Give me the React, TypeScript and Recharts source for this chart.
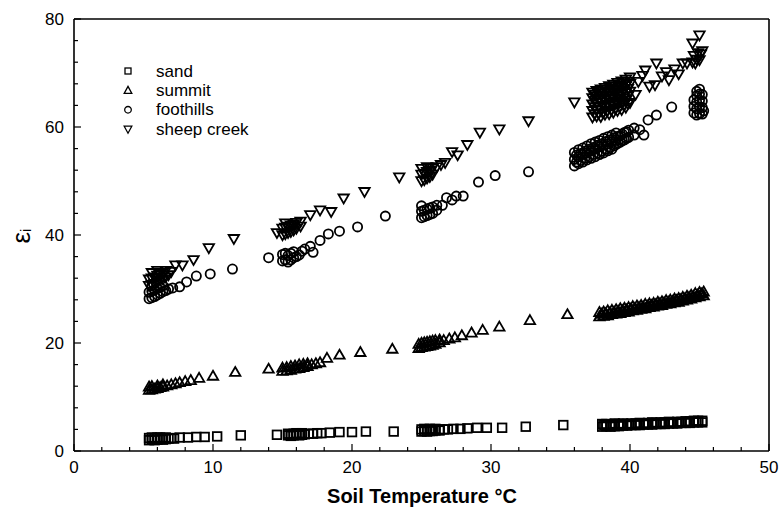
import React from "react";
import { ScatterChart, Scatter, XAxis, YAxis } from "recharts";

const xTicks = [0, 2, 4, 6, 8, 10, 12, 14, 16, 18, 20, 22, 24, 26, 28, 30, 32, 34, 36, 38, 40, 42, 44, 46, 48, 50];
const yTicks = [0, 4, 8, 12, 16, 20, 24, 28, 32, 36, 40, 44, 48, 52, 56, 60, 64, 68, 72, 76, 80];
const seriesNames = ["sand", "summit", "foothills", "sheep creek"];
const xTitle = "Soil Temperature °C";

const sand = [
  [5.4, 2.0], [5.4, 2.4], [5.6, 2.1], [5.6, 2.5], [5.8, 2.0], [5.8, 2.4], [6.0, 2.1], [6.0, 2.5], [6.2, 2.2], [6.2, 2.5],
  [6.4, 2.1], [6.4, 2.4], [6.6, 2.2], [6.6, 2.5], [6.8, 2.3], [7.0, 2.4], [7.2, 2.3],
  [7.6, 2.5], [8.2, 2.5], [8.8, 2.6], [9.4, 2.6], [10.3, 2.7], [12.0, 2.9], [14.6, 3.0],
  [15.4, 2.9], [15.4, 3.2], [15.6, 2.8], [15.6, 3.1], [15.8, 2.9], [15.8, 3.2], [16.0, 3.0], [16.0, 3.3], [16.2, 2.9],
  [16.2, 3.2], [16.4, 3.0], [16.4, 3.3], [16.6, 3.1], [16.9, 3.2], [17.2, 3.2], [17.5, 3.3], [17.8, 3.3], [18.4, 3.4],
  [19.1, 3.5], [20.0, 3.5], [21.0, 3.6], [23.0, 3.6],
  [25.0, 3.6], [25.0, 4.0], [25.2, 3.7], [25.2, 4.1], [25.4, 3.6], [25.4, 4.0], [25.6, 3.7], [25.6, 4.1], [25.8, 3.7],
  [25.8, 4.0], [26.0, 3.8], [26.0, 4.1], [26.3, 3.8], [26.3, 4.0], [26.6, 4.0], [26.9, 4.0], [27.3, 4.1], [27.8, 4.1],
  [28.3, 4.2], [29.0, 4.3], [29.7, 4.3], [30.8, 4.3], [32.5, 4.5], [35.2, 4.8],
  [38.0, 4.5], [38.0, 5.0], [38.3, 4.6], [38.3, 5.0], [38.6, 4.5], [38.6, 4.9], [38.9, 4.6], [38.9, 5.1], [39.2, 4.6],
  [39.2, 5.0], [39.5, 4.7], [39.5, 5.1], [39.8, 4.7], [39.8, 5.0], [40.1, 4.8], [40.1, 5.1], [40.4, 4.8], [40.4, 5.1],
  [40.7, 4.8], [40.7, 5.2], [41.0, 4.9], [41.0, 5.1], [41.3, 4.9], [41.3, 5.2], [41.6, 4.9], [41.6, 5.3], [41.9, 5.0],
  [41.9, 5.2], [42.2, 5.0], [42.2, 5.3], [42.5, 5.0], [42.5, 5.3], [42.8, 5.1], [42.8, 5.4], [43.1, 5.1], [43.1, 5.3],
  [43.4, 5.1], [43.4, 5.4], [43.7, 5.2], [43.7, 5.4], [44.0, 5.2], [44.0, 5.5], [44.3, 5.2], [44.3, 5.5], [44.6, 5.3],
  [44.6, 5.6], [44.9, 5.3], [44.9, 5.6], [45.2, 5.3], [45.2, 5.6],
  [38.15, 4.8], [38.75, 4.8], [39.35, 4.9], [39.95, 4.95], [40.55, 5.0], [41.15, 5.05], [41.75, 5.15], [42.35, 5.2],
  [42.95, 5.25], [43.55, 5.3], [44.15, 5.35], [44.75, 5.45],
];

const summit = [
  [5.4, 11.3], [5.4, 11.9], [5.6, 11.4], [5.6, 12.0], [5.8, 11.5], [6.0, 11.6], [6.0, 12.1], [6.2, 11.8], [6.4, 11.9],
  [6.4, 12.3], [6.7, 12.1], [7.0, 12.3], [7.3, 12.5], [7.6, 12.7], [8.0, 12.9], [8.4, 13.1], [9.0, 13.5], [10.0, 13.9],
  [11.6, 14.6], [14.0, 15.2],
  [15.0, 14.8], [15.0, 15.4], [15.3, 14.9], [15.3, 15.5], [15.6, 15.0], [15.6, 15.7], [15.9, 15.2], [15.9, 15.8],
  [16.2, 15.3], [16.2, 16.0], [16.5, 15.5], [16.5, 16.1], [16.8, 15.7], [16.8, 16.2], [17.1, 16.0], [17.4, 16.2],
  [17.7, 16.4], [18.2, 17.2], [19.1, 17.8], [20.6, 18.3], [22.9, 18.9],
  [24.8, 19.0], [24.8, 19.8], [25.0, 19.2], [25.0, 20.0], [25.2, 19.3], [25.2, 20.1], [25.4, 19.4], [25.4, 20.2],
  [25.6, 19.5], [25.6, 20.3], [25.8, 19.6], [25.8, 20.4], [26.0, 19.8], [26.0, 20.5], [26.3, 20.1], [26.3, 20.6],
  [26.6, 20.5], [27.0, 20.8], [27.4, 21.0], [27.9, 21.4], [28.6, 21.9], [29.4, 22.4], [30.6, 23.0], [32.8, 24.2],
  [35.5, 25.3],
  [37.8, 24.9], [37.8, 25.7], [38.1, 25.0], [38.1, 25.8], [38.4, 25.1], [38.4, 26.0], [38.7, 25.3], [38.7, 26.1],
  [39.0, 25.4], [39.0, 26.2], [39.3, 25.5], [39.3, 26.4], [39.6, 25.7], [39.6, 26.5], [39.9, 25.8], [39.9, 26.6],
  [40.2, 26.0], [40.2, 26.8], [40.5, 26.1], [40.5, 26.9], [40.8, 26.3], [40.8, 27.0], [41.1, 26.4], [41.1, 27.2],
  [41.4, 26.6], [41.4, 27.3], [41.7, 26.7], [41.7, 27.4], [42.0, 26.9], [42.0, 27.6], [42.3, 27.0], [42.3, 27.7],
  [42.6, 27.2], [42.6, 27.9], [42.9, 27.3], [42.9, 28.0], [43.2, 27.5], [43.2, 28.2], [43.5, 27.6], [43.5, 28.3],
  [43.8, 27.8], [43.8, 28.5], [44.1, 28.0], [44.1, 28.7], [44.4, 28.2], [44.4, 28.9], [44.7, 28.4], [44.7, 29.2],
  [45.0, 28.6], [45.0, 29.4], [45.3, 28.8], [45.3, 29.5],
  [37.95, 25.35], [38.25, 25.45], [38.55, 25.6], [38.85, 25.75], [39.15, 25.9], [39.45, 26.0], [39.75, 26.15],
  [40.05, 26.3], [40.35, 26.45], [40.65, 26.6], [40.95, 26.7], [41.25, 26.85], [41.55, 27.0], [41.85, 27.15],
  [42.15, 27.3], [42.45, 27.45], [42.75, 27.6], [43.05, 27.75], [43.35, 27.9], [43.65, 28.05], [43.95, 28.25],
  [44.25, 28.45], [44.55, 28.65], [44.85, 28.9], [45.15, 29.1],
];

const foothills = [
  [5.4, 28.2], [5.4, 29.4], [5.6, 28.4], [5.6, 29.6], [5.6, 30.6], [5.8, 28.6], [5.8, 29.8], [6.0, 28.9], [6.0, 30.1],
  [6.2, 29.2], [6.2, 30.3], [6.4, 29.5], [6.4, 30.6], [6.6, 29.7], [6.8, 30.0], [7.1, 30.2], [7.6, 30.4], [8.1, 31.3],
  [8.8, 32.4], [9.8, 32.8], [11.4, 33.7], [14.0, 35.8],
  [15.0, 35.2], [15.0, 36.4], [15.2, 35.4], [15.2, 36.6], [15.4, 35.0], [15.4, 36.2], [15.6, 35.4], [15.6, 36.6],
  [15.8, 35.8], [15.8, 36.9], [16.0, 36.0], [16.2, 36.3], [16.4, 37.0], [16.6, 37.4], [17.0, 37.9], [17.2, 36.8],
  [17.7, 39.0], [18.3, 40.2], [19.1, 40.7], [20.4, 41.5], [22.4, 43.5],
  [25.0, 43.2], [25.0, 44.4], [25.0, 45.4], [25.2, 43.4], [25.2, 44.6], [25.4, 43.6], [25.4, 44.8], [25.6, 43.8],
  [25.6, 45.0], [25.8, 44.0], [25.8, 45.2], [26.1, 44.6], [26.1, 45.5], [26.5, 45.5], [26.8, 46.9], [27.2, 46.5],
  [27.5, 47.2], [28.0, 47.2], [29.1, 49.8], [30.3, 51.0], [32.7, 51.7],
  [36.0, 52.8], [36.0, 54.0], [36.0, 55.3], [36.3, 53.2], [36.3, 54.5], [36.3, 55.8], [36.6, 53.5], [36.6, 54.9],
  [36.6, 56.1], [36.9, 53.9], [36.9, 55.2], [36.9, 56.5], [37.2, 54.2], [37.2, 55.6], [37.2, 56.9], [37.5, 54.5],
  [37.5, 55.9], [37.5, 57.2], [37.8, 54.9], [37.8, 56.3], [37.8, 57.5], [38.1, 55.2], [38.1, 56.6], [38.1, 57.9],
  [38.4, 55.6], [38.4, 56.9], [38.4, 58.2], [38.7, 55.9], [38.7, 57.3], [38.7, 58.5], [39.0, 56.8], [39.0, 57.6],
  [39.0, 58.9], [39.3, 57.2], [39.3, 58.4], [39.6, 57.6], [39.6, 59.0], [39.9, 58.1], [39.9, 59.4], [40.3, 58.5],
  [40.3, 59.8], [40.7, 59.5], [41.0, 58.5], [41.3, 61.3], [41.9, 62.2], [43.0, 63.7],
  [36.15, 53.5], [36.15, 54.8], [36.45, 53.8], [36.45, 55.1], [36.75, 54.2], [36.75, 55.5], [37.05, 54.5],
  [37.05, 55.9], [37.35, 54.9], [37.35, 56.2], [37.65, 55.2], [37.65, 56.6], [37.95, 55.5], [37.95, 56.9],
  [38.25, 55.9], [38.25, 57.3], [38.55, 56.2], [38.55, 57.6], [38.85, 56.5], [38.85, 58.0], [39.15, 57.0],
  [39.15, 58.3], [39.45, 57.5], [39.45, 58.7], [39.75, 57.9], [39.75, 59.1],
  [44.6, 62.6], [44.6, 63.8], [44.6, 65.0], [44.8, 62.2], [44.8, 63.4], [44.8, 64.6], [44.8, 65.8], [44.8, 66.6],
  [45.0, 62.5], [45.0, 63.7], [45.0, 64.9], [45.0, 66.1], [45.0, 67.0], [45.2, 62.4], [45.2, 63.6], [45.2, 64.8],
  [45.2, 66.0], [45.3, 63.0],
];

const sheepCreek = [
  [5.4, 30.6], [5.4, 31.8], [5.6, 30.8], [5.6, 32.0], [5.6, 33.0], [5.8, 31.0], [5.8, 32.2], [6.0, 31.3], [6.0, 32.5],
  [6.0, 33.4], [6.2, 31.6], [6.2, 32.8], [6.4, 31.8], [6.4, 33.0], [6.6, 32.2], [6.6, 33.4], [6.8, 32.6], [7.0, 33.2],
  [7.3, 34.4], [7.8, 34.4], [8.6, 35.4], [9.7, 37.6], [11.5, 39.3],
  [14.6, 40.4], [15.0, 40.0], [15.0, 41.2], [15.2, 40.2], [15.2, 41.4], [15.2, 42.2], [15.4, 40.4], [15.4, 41.6],
  [15.6, 40.6], [15.6, 41.8], [15.8, 40.9], [15.8, 42.0], [16.0, 41.2], [16.0, 42.3], [16.3, 41.6], [16.3, 42.5],
  [17.0, 43.7], [17.7, 44.6], [18.5, 44.3], [19.4, 46.8], [20.9, 48.0], [23.4, 50.7],
  [25.0, 50.0], [25.0, 51.2], [25.0, 52.3], [25.2, 50.2], [25.2, 51.4], [25.4, 50.5], [25.4, 51.7], [25.4, 52.6],
  [25.6, 50.8], [25.6, 52.0], [25.8, 51.2], [25.8, 52.4], [26.1, 52.6], [26.4, 53.0], [26.7, 53.4], [27.2, 55.4],
  [27.6, 54.8], [28.3, 56.7], [29.2, 59.0], [30.6, 59.6], [32.7, 61.1], [36.0, 64.6],
  [37.3, 61.8], [37.3, 63.0], [37.3, 64.2], [37.3, 65.4], [37.3, 66.4], [37.6, 62.0], [37.6, 63.3], [37.6, 64.5],
  [37.6, 65.7], [37.6, 66.7], [37.9, 61.9], [37.9, 63.1], [37.9, 64.6], [37.9, 65.9], [37.9, 67.0], [38.2, 62.3],
  [38.2, 63.6], [38.2, 64.9], [38.2, 66.2], [38.2, 67.3], [38.5, 62.4], [38.5, 63.8], [38.5, 65.1], [38.5, 66.5],
  [38.5, 67.6], [38.8, 62.7], [38.8, 64.0], [38.8, 65.4], [38.8, 66.8], [38.8, 67.9], [39.1, 63.0], [39.1, 64.3],
  [39.1, 65.7], [39.1, 67.0], [39.1, 68.2], [39.4, 63.2], [39.4, 64.6], [39.4, 66.0], [39.4, 67.3], [39.4, 68.5],
  [39.7, 63.6], [39.7, 64.9], [39.7, 66.3], [39.7, 67.6], [39.7, 68.8], [40.0, 64.5], [40.0, 66.6], [40.0, 68.0],
  [40.0, 69.2],
  [37.45, 62.4], [37.45, 63.7], [37.45, 64.9], [37.45, 66.0], [37.75, 62.5], [37.75, 63.8], [37.75, 65.1],
  [37.75, 66.3], [38.05, 62.6], [38.05, 64.0], [38.05, 65.4], [38.05, 66.6], [38.35, 62.9], [38.35, 64.2],
  [38.35, 65.6], [38.35, 66.9], [38.65, 63.1], [38.65, 64.5], [38.65, 65.9], [38.65, 67.2], [38.95, 63.4],
  [38.95, 64.8], [38.95, 66.2], [38.95, 67.5], [39.25, 63.7], [39.25, 65.1], [39.25, 66.5], [39.25, 67.8],
  [39.55, 64.0], [39.55, 65.4], [39.55, 66.8], [39.55, 68.1], [39.85, 64.3], [39.85, 65.7], [39.85, 67.1],
  [39.85, 68.4],
  [40.4, 66.0], [40.6, 68.4], [40.9, 69.5], [41.1, 70.5], [41.4, 67.5], [41.8, 67.8], [41.9, 71.8], [42.3, 69.4],
  [42.6, 70.2], [42.8, 68.7], [43.2, 70.7], [43.5, 69.8], [43.8, 71.8], [44.1, 71.8], [44.5, 75.5], [45.0, 77.0],
  [44.5, 72.0], [44.6, 73.2], [44.7, 71.8], [44.8, 72.5], [44.9, 73.7], [45.0, 72.4], [45.1, 73.5], [45.2, 74.1],
];

const toPts = (arr: number[][]) => arr.map(([x, y]) => ({ x, y }));

const FONT = "'Liberation Sans', Arial, Helvetica, sans-serif";
const SW = 1.8;

const SquareShape = (p: any) => (
  <rect x={p.cx - 4.3} y={p.cy - 4.3} width={8.6} height={8.6} fill="none" stroke="#000" strokeWidth={SW} />
);
const CircleShape = (p: any) => <circle cx={p.cx} cy={p.cy} r={4.6} fill="none" stroke="#000" strokeWidth={SW} />;
const TriUpShape = (p: any) => (
  <polygon
    points={`${p.cx},${p.cy - 5.2} ${p.cx + 5.2},${p.cy + 3.8} ${p.cx - 5.2},${p.cy + 3.8}`}
    fill="none"
    stroke="#000"
    strokeWidth={SW}
  />
);
const TriDownShape = (p: any) => (
  <polygon
    points={`${p.cx - 5.2},${p.cy - 3.8} ${p.cx + 5.2},${p.cy - 3.8} ${p.cx},${p.cy + 5.2}`}
    fill="none"
    stroke="#000"
    strokeWidth={SW}
  />
);

const BottomTick = (p: any) => {
  const v = p.payload.value;
  const major = v % 10 === 0;
  return (
    <g>
      <line x1={p.x} y1={p.y} x2={p.x} y2={p.y - (major ? 7 : 4)} stroke="#000" strokeWidth={1.2} />
      {major && (
        <text x={p.x} y={p.y + 22} textAnchor="middle" fontSize={17} fontFamily={FONT} fill="#000">
          {v}
        </text>
      )}
    </g>
  );
};
const TopTick = (p: any) => {
  const v = p.payload.value;
  const major = v % 10 === 0;
  return <line x1={p.x} y1={p.y} x2={p.x} y2={p.y + (major ? 7 : 4)} stroke="#000" strokeWidth={1.2} />;
};
const LeftTick = (p: any) => {
  const v = p.payload.value;
  const major = v % 20 === 0;
  return (
    <g>
      <line x1={p.x} y1={p.y} x2={p.x + (major ? 7 : 4)} y2={p.y} stroke="#000" strokeWidth={1.2} />
      {major && (
        <text x={p.x - 10} y={p.y + 6} textAnchor="end" fontSize={17} fontFamily={FONT} fill="#000">
          {v}
        </text>
      )}
    </g>
  );
};
const RightTick = (p: any) => {
  const v = p.payload.value;
  const major = v % 20 === 0;
  return <line x1={p.x} y1={p.y} x2={p.x - (major ? 7 : 4)} y2={p.y} stroke="#000" strokeWidth={1.2} />;
};

const legendIcons = [
  <rect key="s" x={-3} y={-3} width={6} height={6} fill="none" stroke="#000" strokeWidth={1.3} />,
  <polygon key="t" points="0,-4 3.8,3 -3.8,3" fill="none" stroke="#000" strokeWidth={1.3} />,
  <circle key="c" cx={0} cy={0} r={3.3} fill="none" stroke="#000" strokeWidth={1.3} />,
  <polygon key="d" points="-3.8,-3 3.8,-3 0,4" fill="none" stroke="#000" strokeWidth={1.3} />,
];

const axisLineStyle = { stroke: "#000", strokeWidth: 1.6 };

export default function App() {
  return (
    <div style={{ position: "absolute", left: 0, top: 0, width: 783, height: 512, background: "#fff" }}>
      <ScatterChart width={783} height={512} margin={{ top: 9, right: 4, bottom: 21, left: 34 }}>
        <XAxis
          xAxisId="b"
          type="number"
          dataKey="x"
          domain={[0, 50]}
          ticks={xTicks}
          interval={0}
          height={40}
          tickSize={0}
          tickMargin={0}
          tickLine={false}
          axisLine={axisLineStyle}
          tick={<BottomTick />}
        />
        <XAxis
          xAxisId="t"
          orientation="top"
          type="number"
          dataKey="x"
          domain={[0, 50]}
          ticks={xTicks}
          interval={0}
          height={10}
          tickSize={0}
          tickMargin={0}
          tickLine={false}
          axisLine={axisLineStyle}
          tick={<TopTick />}
        />
        <YAxis
          yAxisId="l"
          type="number"
          dataKey="y"
          domain={[0, 80]}
          ticks={yTicks}
          interval={0}
          width={40}
          tickSize={0}
          tickMargin={0}
          tickLine={false}
          axisLine={axisLineStyle}
          tick={<LeftTick />}
        />
        <YAxis
          yAxisId="r"
          orientation="right"
          type="number"
          dataKey="y"
          domain={[0, 80]}
          ticks={yTicks}
          interval={0}
          width={10}
          tickSize={0}
          tickMargin={0}
          tickLine={false}
          axisLine={axisLineStyle}
          tick={<RightTick />}
        />
        <Scatter name={seriesNames[0]} data={toPts(sand)} xAxisId="b" yAxisId="l" shape={SquareShape} isAnimationActive={false} />
        <Scatter name={seriesNames[1]} data={toPts(summit)} xAxisId="b" yAxisId="l" shape={TriUpShape} isAnimationActive={false} />
        <Scatter name={seriesNames[2]} data={toPts(foothills)} xAxisId="b" yAxisId="l" shape={CircleShape} isAnimationActive={false} />
        <Scatter name={seriesNames[3]} data={toPts(sheepCreek)} xAxisId="b" yAxisId="l" shape={TriDownShape} isAnimationActive={false} />
        <Scatter data={[]} xAxisId="t" yAxisId="r" isAnimationActive={false} />
      </ScatterChart>
      <svg width={783} height={512} style={{ position: "absolute", left: 0, top: 0, pointerEvents: "none" }}>
        <text x={422} y={503} textAnchor="middle" fontSize={20} fontWeight="bold" fontFamily={FONT} fill="#000">
          {xTitle}
        </text>
        <text transform="translate(30,236) rotate(-90)" textAnchor="middle" fontSize={26} fontFamily={FONT} fill="#000">
          ε<tspan fontSize={15} dy={1}>i</tspan>
        </text>
        {seriesNames.map((n, i) => (
          <g key={n} transform={`translate(0,${71 + i * 19.4})`}>
            <g transform="translate(128,0)">{legendIcons[i]}</g>
            <text x={156} y={5.5} fontSize={17} fontFamily={FONT} fill="#000">
              {n}
            </text>
          </g>
        ))}
      </svg>
    </div>
  );
}
